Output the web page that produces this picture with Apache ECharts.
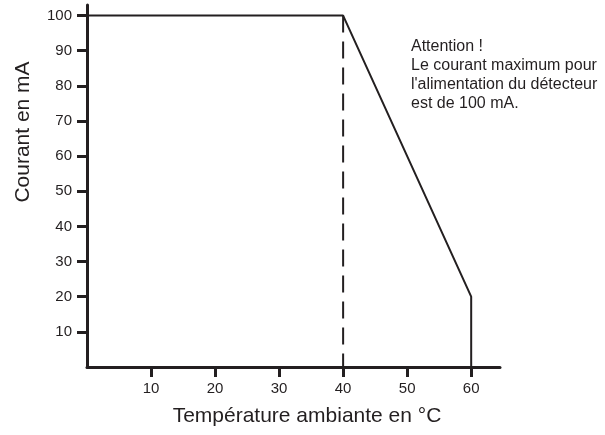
<!DOCTYPE html>
<html>
<head>
<meta charset="utf-8">
<script src="https://cdn.jsdelivr.net/npm/echarts@6/dist/echarts.min.js"></script>
<style>html,body{margin:0;padding:0;background:#fff}#c{width:605px;height:435px}</style>
</head>
<body>
<div id="c"></div>
<script>
// Data
var curveX = [0, 40, 60, 60];
var curveY = [100, 100, 20, 0];
var dashX = [40, 40];
var dashY = [100, 0];
var xTicks = [10, 20, 30, 40, 50, 60];
var yTicks = [10, 20, 30, 40, 50, 60, 70, 80, 90, 100];
var xName = 'Température ambiante en °C';
var yName = 'Courant en mA';
var noteLines = ['Attention !', 'Le courant maximum pour', "l'alimentation du détecteur", 'est de 100 mA.'];

var ink = '#231f20';
var font = '"Liberation Sans", Arial, Helvetica, sans-serif';

function pairs(xs, ys) { return xs.map(function (x, i) { return [x, ys[i]]; }); }

var chart = echarts.init(document.getElementById('c'), null, { renderer: 'canvas' });
chart.setOption({
  animation: false,
  backgroundColor: '#fff',
  grid: { left: 87, right: 105, top: 5, bottom: 68, containLabel: false },
  xAxis: {
    type: 'value', min: 0, max: 64.5,
    splitLine: { show: false },
    axisLine: { show: true, lineStyle: { color: ink, width: 3 } },
    axisTick: { show: true, inside: false, length: 10, lineStyle: { color: ink, width: 3 }, customValues: xTicks },
    axisLabel: { color: ink, fontSize: 15, fontFamily: font, margin: 14, customValues: xTicks }
  },
  yAxis: {
    type: 'value', min: 0, max: 103,
    splitLine: { show: false },
    axisLine: { show: true, lineStyle: { color: ink, width: 3 } },
    axisTick: { show: true, inside: false, length: 10, lineStyle: { color: ink, width: 3 }, customValues: yTicks },
    axisLabel: { color: ink, fontSize: 15, fontFamily: font, margin: 15, customValues: yTicks }
  },
  series: [
    {
      type: 'line', data: pairs(curveX, curveY), showSymbol: false, symbol: 'none',
      lineStyle: { color: ink, width: 2 }, z: 3
    },
    {
      type: 'line', data: pairs(dashX, dashY), showSymbol: false, symbol: 'none',
      lineStyle: { color: ink, width: 2, type: [17, 9] }, z: 2
    }
  ],
  graphic: [
    {
      type: 'text', x: 23, y: 132, rotation: Math.PI / 2,
      style: { text: yName, fill: ink, font: '21px ' + font, textAlign: 'center', textVerticalAlign: 'middle' }
    },
    {
      type: 'text', x: 307, y: 416,
      style: { text: xName, fill: ink, font: '21px ' + font, textAlign: 'center', textVerticalAlign: 'middle' }
    },
    {
      type: 'text', x: 411, y: 37,
      style: { text: noteLines.join('\n'), fill: ink, font: '16px ' + font, lineHeight: 19, textAlign: 'left', textVerticalAlign: 'top' }
    }
  ]
});
</script>
</body>
</html>
